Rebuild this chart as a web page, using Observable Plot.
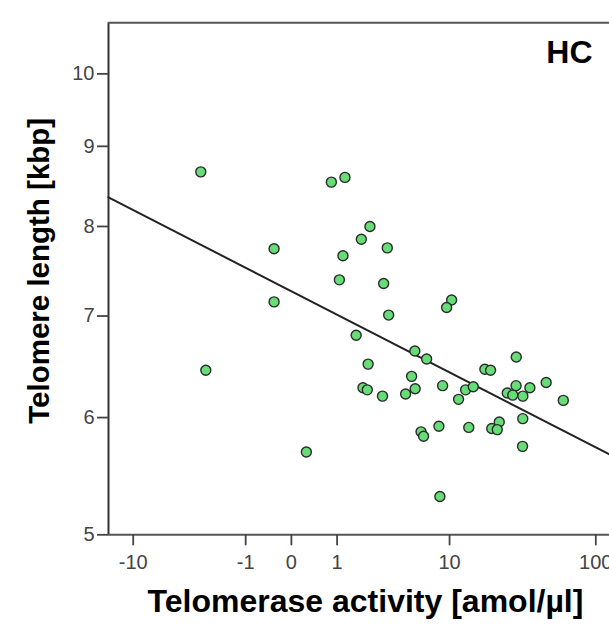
<!DOCTYPE html>
<html>
<head>
<meta charset="utf-8">
<script src="https://cdn.jsdelivr.net/npm/d3@7"></script>
<script src="https://cdn.jsdelivr.net/npm/@observablehq/plot@0.6"></script>
<style>
  body { margin: 0; background: #fff; }
</style>
</head>
<body>
<div id="chart"></div>
<script>
// Telomerase activity (amol/µl) and telomere length (kbp) per subject, HC group
const activity = [-2.95, -2.66, -0.30, -0.30, 0.255, 0.833, 1.253, 2.29, 1.888, 3.28,
  1.185, 1.07, 3.05, 3.37, 10.35, 9.52, 1.67, 5.50, 6.77, 29.24,
  17.79, 19.49, 2.20, 5.19, 46.6, 1.96, 2.16, 2.98, 5.53, 4.65,
  8.90, 13.03, 14.76, 11.61, 29.15, 36.17, 25.38, 27.68, 32.42, 60.7,
  32.37, 22.37, 19.86, 21.67, 13.72, 8.36, 6.14, 6.42, 32.27, 8.50];
const telomere = [8.67, 6.45, 7.74, 7.15, 5.69, 8.54, 8.60, 8.00, 7.85, 7.75,
  7.66, 7.39, 7.35, 7.01, 7.17, 7.09, 6.80, 6.64, 6.56, 6.58,
  6.46, 6.45, 6.51, 6.39, 6.33, 6.28, 6.26, 6.20, 6.27, 6.22,
  6.30, 6.26, 6.29, 6.17, 6.30, 6.28, 6.23, 6.21, 6.20, 6.16,
  5.99, 5.96, 5.90, 5.89, 5.91, 5.92, 5.87, 5.83, 5.74, 5.31];

// Fitted regression line, at both ends of the activity range
const fitActivity = [-15, 123.3];
const fitTelomere = [8.35, 5.67];

const xTicks = [-10, -1, 0, 1, 10, 100];
const yTicks = [5, 6, 7, 8, 9, 10];
const activityDomain = [-15, 123.3];
const telomereDomain = [5, 10.764];

const groupLabel = "HC";
const xLabel = "Telomerase activity [amol/µl]";
const yLabel = "Telomere length [kbp]";

// Telomere length is plotted on a log scale of (length + 1 kbp)
const shift = v => v + 1;

const font = "'Liberation Sans', Arial, sans-serif";
const axisColor = "#444";

const chart = Plot.plot({
  width: 609,
  height: 625,
  marginLeft: 108,
  marginRight: 0,
  marginTop: 22.3,
  marginBottom: 90.7,
  style: { fontFamily: font, background: "#fff" },
  x: { type: "symlog", constant: 1, domain: activityDomain },
  y: { type: "log", domain: telomereDomain.map(shift) },
  marks: [
    // frame: left, bottom and top borders
    Plot.ruleX([activityDomain[0]], { stroke: "#333", strokeWidth: 2 }),
    Plot.ruleY(telomereDomain.map(shift), { stroke: "#555", strokeWidth: 2 }),
    Plot.axisX(xTicks, {
      tickSize: 11, tickPadding: 9, fontSize: 20,
      stroke: axisColor, fill: axisColor, strokeWidth: 1.8, label: null,
      tickFormat: d => String(d)
    }),
    Plot.axisY(yTicks.map(shift), {
      tickSize: 11, tickPadding: 3, fontSize: 20,
      stroke: axisColor, fill: axisColor, strokeWidth: 1.8, label: null,
      tickFormat: d => String(Math.round(d - 1))
    }),
    Plot.line(fitActivity, {
      x: d => d,
      y: (d, i) => shift(fitTelomere[i]),
      stroke: "#222", strokeWidth: 2
    }),
    Plot.dot(activity, {
      x: d => d,
      y: (d, i) => shift(telomere[i]),
      r: 5,
      fill: "#66dd77",
      stroke: "#2b2b2b",
      strokeWidth: 1.4
    }),
    Plot.text([groupLabel], {
      frameAnchor: "top-right", textAnchor: "end", lineAnchor: "top",
      dx: -17, dy: 17.5, fontSize: 32, fontWeight: "bold", fill: "#000"
    }),
    Plot.text([xLabel], {
      frameAnchor: "bottom", textAnchor: "middle",
      dx: 6.5, dy: 77.5, fontSize: 32, fontWeight: "bold", fill: "#000"
    }),
    Plot.text([yLabel], {
      frameAnchor: "left", textAnchor: "middle", rotate: -90,
      dx: -68.6, dy: -8, fontSize: 29.5, fontWeight: "bold", fill: "#000"
    })
  ]
});

document.getElementById("chart").appendChild(chart);
</script>
</body>
</html>
